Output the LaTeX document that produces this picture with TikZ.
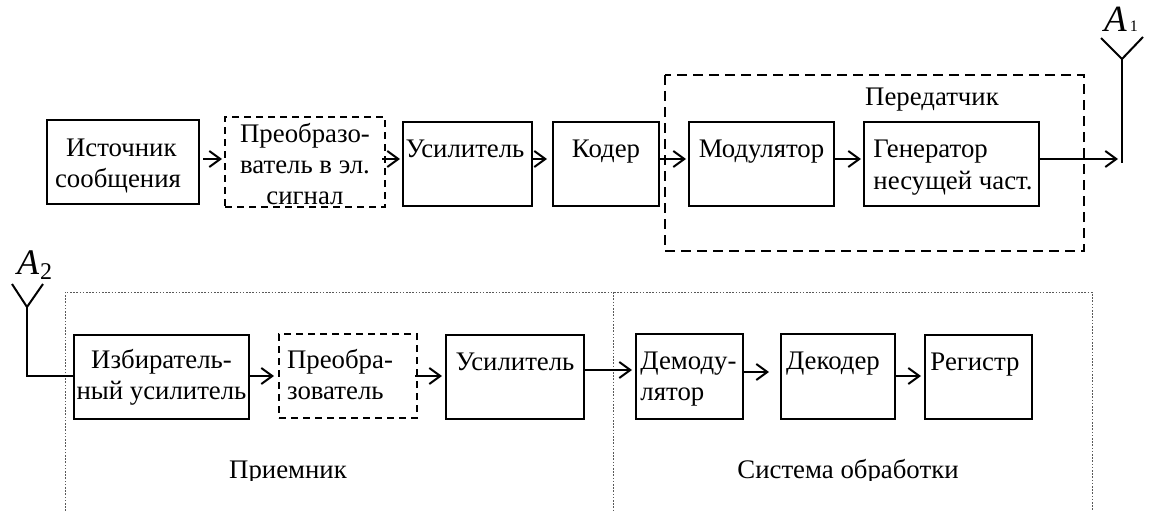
\documentclass[tikz,border=0pt]{standalone}
\usepackage{fontspec}
\setmainfont{Liberation Serif}
\usetikzlibrary{arrows.meta,calc}
% #1 horizontal offset of the text from the box centre, #2 rise of the first baseline above the box centre
\newcommand\boxtext[4]{\raisebox{#2}[0pt][0pt]{\makebox[0pt]{\hspace*{2\dimexpr#1\relax}\begin{tabular}[t]{@{}#3@{}}#4\end{tabular}}}}
\tikzset{
  x=1pt,y=-1pt,
  every node/.style={font=\fontsize{26.8}{31}\selectfont},
  blockbox/.style={draw=black,line width=2pt,inner sep=0pt,rectangle},
  dashbox/.style={blockbox,dash pattern=on 7pt off 5pt},
  conn/.style={draw=black,line width=2pt,-{Straight Barb[length=11pt,width=16pt,line width=2pt]}},
  wire/.style={draw=black,line width=2pt},
  antenna/.style={draw=black,line width=2pt},
  dotbound/.style={draw=black!65,line width=0.9pt,dash pattern=on 1.6pt off 1.6pt},
  bigdash/.style={draw=black,line width=2pt,dash pattern=on 10pt off 6pt},
  caption/.style={inner sep=0pt,anchor=base}
}
\newcommand\blk[7][blockbox]{\node[#1,minimum width=(#4-#3)*1pt,minimum height=(#6-#5)*1pt,anchor=north west] (#2) at (#3,#5) {#7};}
\begin{document}
\begin{tikzpicture}
\useasboundingbox (0,0) rectangle (1149,511);
% boundaries
\draw[bigdash] (665,75) rectangle (1084,251);
\draw[dotbound] (65,511) -- (65,292) -- (1092,292) -- (1092,511);
\draw[dotbound] (613,292) -- (613,511);
% top row
\blk{src}{46}{198}{119}{203}{\boxtext{-5pt}{6pt}{l}{\hspace*{11pt}Источник\\сообщения}}
\blk[dashbox]{conv}{224}{384}{116}{206}{\boxtext{0pt}{20pt}{c}{Преобразо-\\ватель в эл.\\сигнал}}
\blk{amp}{402}{531}{121}{205}{\boxtext{-2.5pt}{6pt}{c}{Усилитель}}
\blk{enc}{552}{658}{121}{205}{\boxtext{0pt}{6pt}{c}{Кодер}}
\blk{mod}{688}{833}{121}{205}{\boxtext{0pt}{6pt}{c}{Модулятор}}
\blk{gen}{863}{1038}{121}{205}{\boxtext{1.5pt}{6pt}{l}{Генератор\\несущей част.}}
% bottom row
\blk{sel}{73}{248}{334}{418}{\boxtext{0pt}{9pt}{c}{Избиратель-\\ный усилитель}}
\blk[dashbox]{conv2}{278}{416}{333}{417}{\boxtext{-8pt}{8pt}{l}{Преобра-\\зователь}}
\blk{amp2}{445}{583}{334}{418}{\boxtext{0pt}{7pt}{c}{Усилитель}}
\blk{dem}{635}{742}{333}{418}{\boxtext{-1pt}{7pt}{l}{Демоду-\\лятор}}
\blk{dec}{780}{894}{333}{418}{\boxtext{-5pt}{7pt}{c}{Декодер}}
\blk{reg}{924}{1031}{334}{418}{\boxtext{-3.5pt}{7pt}{c}{Регистр}}
% captions
\node[caption] (lbltx) at (932,105) {Передатчик};
\begin{scope}
\clip (0,0) rectangle (1149,480);
\node[caption] (lblrx) at (288,478) {Приемник};
\node[caption] (lblproc) at (848,478) {Система обработки};
\end{scope}
\node[inner sep=0pt,anchor=base west] (a1) at (1104,32) {\fontsize{37}{37}\selectfont\itshape A\kern3pt\fontsize{16}{16}\selectfont\upshape 1};
\node[inner sep=0pt,anchor=base west] (a2) at (17,274) {\fontsize{36}{36}\selectfont\itshape A\kern1pt\fontsize{24}{24}\selectfont\upshape\raisebox{-5pt}{2}};
% antennas
\coordinate (a1foot) at (1122,59);
\coordinate (a1base) at (1122,163);
\coordinate (a2foot) at (27,307);
\coordinate (a2bend) at (27,376);
\draw[antenna] (1101,38) -- (a1foot) -- (1143,37);
\draw[antenna] (a1foot) -- (a1base);
\draw[antenna] (12,284) -- (a2foot) -- (43,284);
\draw[wire] (a2foot) -- (a2bend) -- (sel.west |- a2bend);
% connectors
\coordinate (pA) at (203,159);
\coordinate (pB) at (382,159);
\coordinate (pC) at (415,376);
\draw[conn] (pA) -- (222,159);
\draw[conn] (pB) -- (400,159);
\draw[conn] (amp.east |- 0,159) -- (547,159);
\draw[conn] (enc.east |- 0,159) -- (686,159);
\draw[conn] (mod.east |- 0,159) -- (861,159);
\draw[conn] (gen.east |- 0,159) -- (1118,159);
\draw[conn] (sel.east |- 0,376) -- (274,376);
\draw[conn] (pC) -- (442,376);
\draw[conn] (amp2.east |- 0,370) -- (632,370);
\draw[conn] (dem.east |- 0,372) -- (769,372);
\draw[conn] (dec.east |- 0,376) -- (921,376);
\end{tikzpicture}
\end{document}
